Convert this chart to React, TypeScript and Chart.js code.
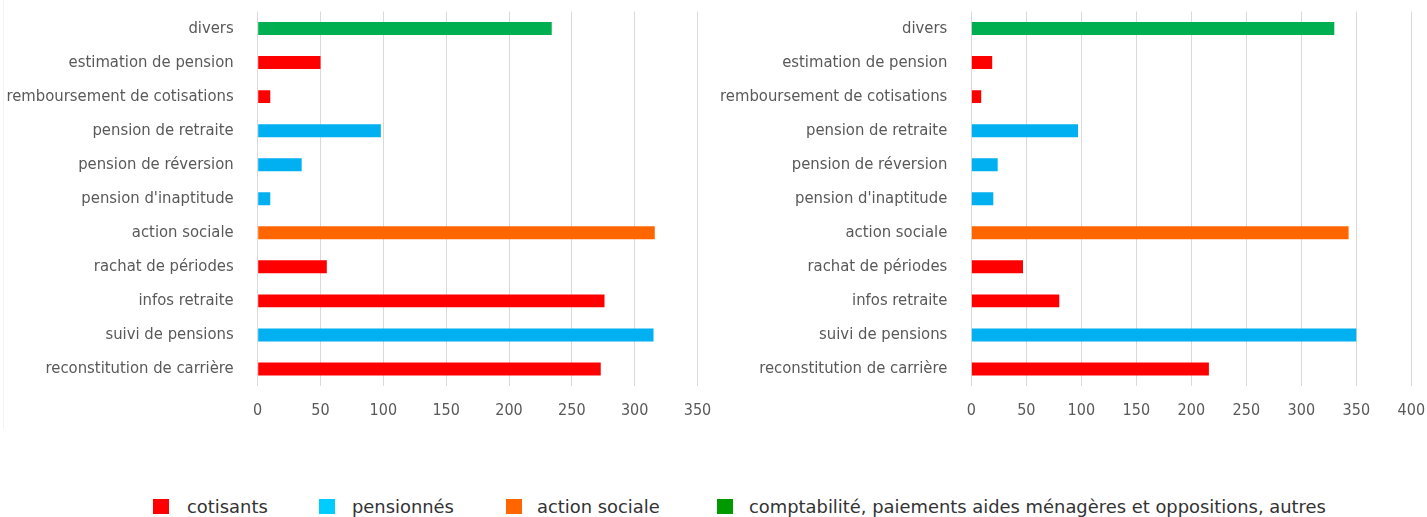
import React, { useEffect, useRef } from "react";
import { Chart, registerables } from "chart.js";

Chart.register(...registerables);

// ---- data ----
const categories = [
  "divers",
  "estimation de pension",
  "remboursement de cotisations",
  "pension de retraite",
  "pension de réversion",
  "pension d'inaptitude",
  "action sociale",
  "rachat de périodes",
  "infos retraite",
  "suivi de pensions",
  "reconstitution de carrière",
];
// index into seriesNames for each category
const categoryGroup = [3, 0, 0, 1, 1, 1, 2, 0, 0, 1, 0];
const seriesNames = [
  "cotisants",
  "pensionnés",
  "action sociale",
  "comptabilité, paiements aides ménagères et oppositions, autres",
];
const barColors = ["#FF0000", "#00B0F0", "#FF6600", "#00B050"];
const legendColors = ["#FF0000", "#00CCFF", "#FF6600", "#009900"];
const leftValues = [234, 50, 10, 98, 35, 10, 316, 55, 276, 315, 273];
const rightValues = [330, 19, 9, 97, 24, 20, 343, 47, 80, 350, 216];
const leftMax = 350;
const rightMax = 400;
const tickStep = 50;

const fontFamily = '"Liberation Sans Narrow", "DejaVu Sans Condensed", sans-serif';
const catFont = { family: fontFamily, size: 16.5 };
const tickFont = { family: fontFamily, size: 16 };
const labelColor = "#595959";

function buildConfig(values: number[], max: number, yWidth: number, padRight: number): any {
  const datasets = seriesNames.map((name, g) => ({
    label: name,
    data: values.map((v, i) => (categoryGroup[i] === g ? v : null)),
    backgroundColor: barColors[g],
    borderWidth: 0,
    barPercentage: 0.38,
    categoryPercentage: 1,
  }));
  return {
    type: "bar",
    data: { labels: categories, datasets },
    options: {
      indexAxis: "y",
      animation: false,
      responsive: false,
      maintainAspectRatio: false,
      layout: { padding: { top: 11.5, right: padRight, bottom: 10, left: 0 } },
      plugins: { legend: { display: false }, tooltip: { enabled: false } },
      scales: {
        x: {
          stacked: true,
          min: 0,
          max,
          ticks: { stepSize: tickStep, padding: 15, color: labelColor, font: tickFont, maxRotation: 0 },
          grid: { color: "#D9D9D9", drawTicks: false, lineWidth: 1 },
          border: { display: false },
          afterFit: (s: any) => {
            s.height = 34;
            s.paddingLeft = 0;
            s.paddingRight = 0;
          },
        },
        y: {
          stacked: true,
          grid: { display: false },
          border: { display: false },
          ticks: { padding: 16, color: labelColor, font: catFont, autoSkip: false },
          afterFit: (s: any) => {
            s.width = yWidth;
            s.paddingTop = 0;
            s.paddingBottom = 0;
          },
        },
      },
    },
  };
}

function BarPanel(props: { values: number[]; max: number; yWidth: number; padRight: number; width: number; height: number }) {
  const ref = useRef<HTMLCanvasElement | null>(null);
  useEffect(() => {
    if (!ref.current) return;
    const chart = new Chart(ref.current, buildConfig(props.values, props.max, props.yWidth, props.padRight));
    return () => chart.destroy();
  }, []);
  return <canvas ref={ref} width={props.width} height={props.height} style={{ display: "block", width: props.width, height: props.height }} />;
}

const legendSquareX = [153, 319, 506, 717];
const legendTextX = [187, 352, 537, 749];

export default function App() {
  useEffect(() => {
    document.body.style.margin = "0";
  }, []);
  return (
    <div style={{ position: "absolute", left: 0, top: 0, width: 1427, height: 517, background: "#fff", overflow: "hidden" }}>
      <div style={{ position: "absolute", left: 3, top: 0, width: 1, height: 428, background: "#F2F2F2" }} />
      <div style={{ position: "absolute", left: 0, top: 0 }}>
        <BarPanel values={leftValues} max={leftMax} yWidth={257.7} padRight={14.5} width={712} height={430} />
      </div>
      <div style={{ position: "absolute", left: 712, top: 0 }}>
        <BarPanel values={rightValues} max={rightMax} yWidth={259.3} padRight={15.7} width={715} height={430} />
      </div>
      {seriesNames.map((name, g) => (
        <React.Fragment key={name}>
          <div
            style={{
              position: "absolute",
              left: legendSquareX[g],
              top: 499,
              width: 16,
              height: 15,
              background: legendColors[g],
            }}
          />
          <div
            style={{
              position: "absolute",
              left: legendTextX[g],
              top: 497,
              fontFamily: '"DejaVu Sans", sans-serif',
              fontSize: 17.9,
              lineHeight: "20px",
              color: "#333333",
              whiteSpace: "nowrap",
            }}
          >
            {name}
          </div>
        </React.Fragment>
      ))}
    </div>
  );
}
